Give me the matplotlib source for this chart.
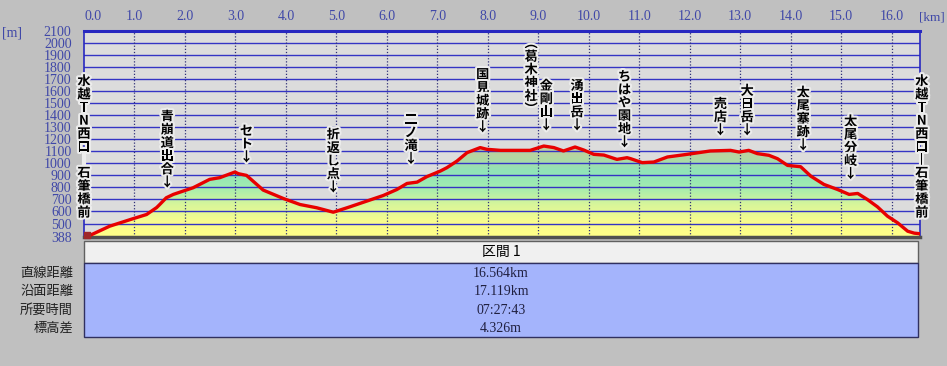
import numpy as np
import matplotlib
matplotlib.use("Agg")
import matplotlib.pyplot as plt
import matplotlib.patheffects as pe
from matplotlib.colors import LinearSegmentedColormap
from matplotlib.patches import Rectangle

plt.rcParams['font.family'] = ['Noto Sans CJK JP', 'DejaVu Sans']

# profile (horizontal km, elevation m)
km = [0.0, 0.11, 0.51, 0.97, 1.24, 1.44, 1.50, 1.63, 1.77, 1.96, 2.16, 2.49, 2.69,
      2.99, 3.06, 3.22, 3.55, 3.95, 4.28, 4.61, 4.94, 5.27, 5.60, 5.93, 6.20, 6.40,
      6.60, 6.79, 7.06, 7.19, 7.39, 7.59, 7.85, 7.98, 8.25, 8.84, 9.11, 9.31, 9.50,
      9.73, 9.90, 10.10, 10.30, 10.56, 10.76, 10.83, 11.06, 11.29, 11.56, 11.95,
      12.41, 12.81, 12.98, 13.17, 13.34, 13.57, 13.74, 13.94, 14.20, 14.40, 14.66,
      14.93, 15.16, 15.33, 15.52, 15.72, 15.92, 16.12, 16.32, 16.45, 16.564]
elev = [405, 400, 478, 540, 575, 633, 658, 714, 742, 769, 797, 867, 881,
        928, 914, 900, 778, 708, 658, 631, 594, 639, 686, 733, 783, 833,
        844, 889, 936, 964, 1019, 1089, 1131, 1117, 1108, 1108, 1144, 1131, 1103,
        1136, 1111, 1075, 1069, 1033, 1047, 1039, 1006, 1011, 1053, 1075,
        1103, 1108, 1094, 1108, 1081, 1067, 1039, 983, 972, 894, 825,
        783, 742, 750, 700, 639, 561, 506, 436, 420, 415]

# waypoint labels: name, km, elevation of the arrow tip
spot_names = ["水越TN西口︱石筆橋前", "青崩道出合↓", "セト↓", "折返し点↓", "二ノ滝↓",
              "国見城跡↓", "︵葛木神社︶", "金剛山↓", "湧出岳↓", "ちはや園地↓",
              "売店↓", "大日岳↓", "太尾塞跡↓", "太尾分岐↓", "水越TN西口︱石筆橋前"]
spot_km = [0.0, 1.65, 3.22, 4.94, 6.48, 7.90, 8.86, 9.16, 9.77, 10.71,
           12.61, 13.14, 14.25, 15.19, 16.6]
spot_elev = [533, 783, 992, 742, 978, 1242, 1392, 1258, 1258, 1117,
             1217, 1217, 1092, 853, 533]

x_ticks = np.arange(0, 17, 1.0)
y_ticks = [388] + list(range(500, 2200, 100))

row_names = ["直線距離", "沿面距離", "所要時間", "標高差"]
row_values = ["16.564km", "17.119km", "07:27:43", "4.326m"]
section_name = "区間 1"

W, H = 947, 366
fig = plt.figure(figsize=(W / 100, H / 100), dpi=100)
fig.patch.set_facecolor('#c0c0c0')

ax = fig.add_axes([84 / W, 1 - 237 / H, (920 - 84) / W, (237 - 31) / H])
ax.set_facecolor('#dcdcdc')
ax.set_xlim(0, 16.564)
ax.set_ylim(388, 2100)

# gradient fill under the profile
cmap = LinearSegmentedColormap.from_list('elev', [
    (0.0, '#ffff88'), (0.15, '#fafc8c'), (0.35, '#d8f69a'), (0.55, '#a0ecb0'),
    (0.72, '#90e4b8'), (0.85, '#b0d8a4'), (1.0, '#c8c898')])
grad = np.linspace(0, 1, 256).reshape(-1, 1)
im = ax.imshow(grad, cmap=cmap, origin='lower', aspect='auto',
               extent=[0, 16.564, 388, 1150], zorder=1)
poly = ax.fill_between(km, elev, 388, color='none', lw=0)
im.set_clip_path(poly.get_paths()[0], transform=ax.transData)

for y in y_ticks[1:]:
    ax.axhline(y, color='#3434c4', lw=1.0, zorder=2)
for x in x_ticks[1:]:
    ax.axvline(x, color='#30307a', lw=0.9, ls=(0, (1, 1.5)), zorder=2)

ax.plot(km, elev, color='#e80000', lw=2.4, zorder=4, solid_capstyle='round')
ax.scatter([0.05], [405], marker='s', s=22, color='#a02828', zorder=5, clip_on=False)

for name, x, y in zip(spot_names, spot_km, spot_elev):
    txt = "\n".join(name)
    ax.text(x, y, txt, ha='center', va='bottom', fontsize=9.5, linespacing=0.92,
            color='black', fontweight='bold', zorder=6, clip_on=False,
            path_effects=[pe.withStroke(linewidth=3, foreground='#ececec')])

ax.xaxis.tick_top()
ax.set_xticks(x_ticks)
ax.set_xticklabels([f"{v:.1f}" for v in x_ticks], fontfamily='Liberation Serif',
                   fontsize=10, color='#4048a8')
ax.get_xticklabels()[0].set_ha('left')
ax.set_yticks(y_ticks)
ax.set_yticklabels([str(v) for v in y_ticks], fontfamily='Liberation Serif',
                   fontsize=10, color='#4048a8')
ax.tick_params(axis='both', length=0)
ax.tick_params(axis='x', pad=6)
ax.tick_params(axis='y', pad=9)

for s in ['top', 'left', 'right']:
    ax.spines[s].set_color('#2828c0')
ax.spines['top'].set_linewidth(2.2)
ax.spines['left'].set_linewidth(1.2)
ax.spines['right'].set_linewidth(1.2)
ax.spines['bottom'].set_color('#505050')
ax.spines['bottom'].set_linewidth(2.5)

fig.text(2 / W, 1 - 33 / H, "[m]", fontfamily='Liberation Serif', fontsize=10,
         color='#4048a8', va='center')
fig.text(945 / W, 1 - 17 / H, "[km]", fontfamily='Liberation Serif', fontsize=9.5,
         color='#4048a8', va='center', ha='right')

# summary table under the chart
tb = fig.add_axes([0, 0, 1, 1], facecolor='none')
tb.set_xlim(0, W)
tb.set_ylim(H, 0)
tb.axis('off')
tb.add_patch(Rectangle((84, 241), 834, 22, facecolor='#f0f0f0', edgecolor='#606060', lw=1))
tb.add_patch(Rectangle((84, 263), 834, 74, facecolor='#a4b4fc', edgecolor='#303060', lw=1))
tb.text(501, 252, section_name, ha='center', va='center', fontsize=10, color='black')
for i, (n, v) in enumerate(zip(row_names, row_values)):
    yy = 273.5 + i * 18.3
    tb.text(73, yy, n, ha='right', va='center', fontsize=9.5, color='#202020')
    tb.text(501, yy, v, ha='center', va='center', fontsize=10,
            fontfamily='Liberation Serif', color='#202040')

fig.savefig("out.png", dpi=100, facecolor=fig.get_facecolor())
